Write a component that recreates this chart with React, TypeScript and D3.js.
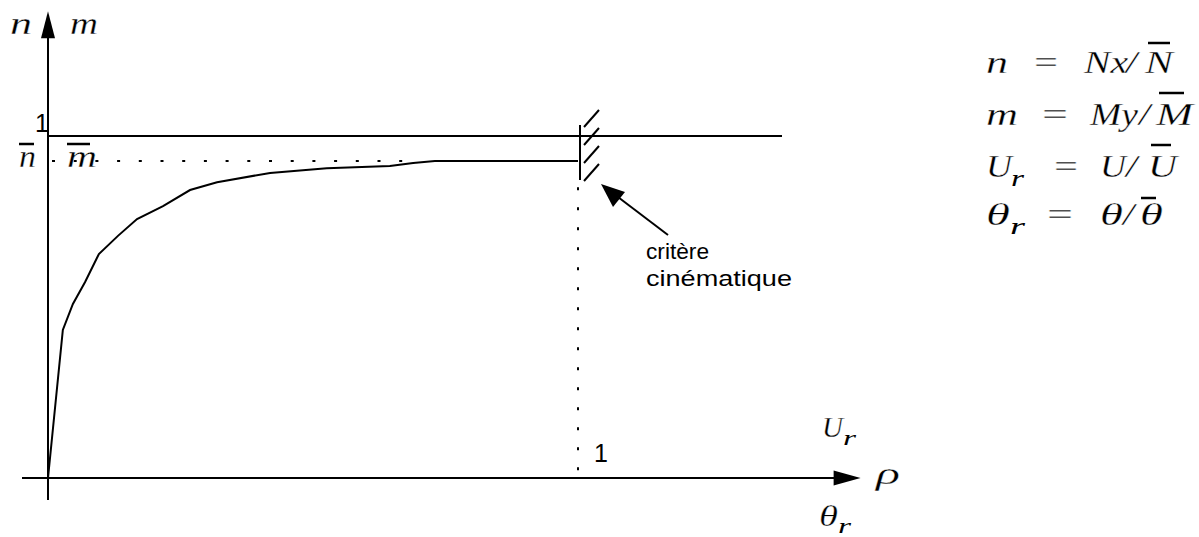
import React from "react";
import * as d3 from "d3";

// Curve data (normalized force vs. normalized displacement)
const curveX = [0, 0.028, 0.047, 0.07, 0.096, 0.132, 0.168, 0.217, 0.268, 0.319, 0.419, 0.526, 0.645, 0.689, 0.73, 1.0];
const curveY = [0, 0.433, 0.509, 0.573, 0.655, 0.708, 0.757, 0.795, 0.842, 0.865, 0.892, 0.906, 0.912, 0.921, 0.927, 0.927];
const limitLevel = 1; // "1" horizontal line
const barLevel = 0.927; // n̄ / m̄ dotted level
const xLimit = 1; // critère cinématique
const xMax = 1.52;
const yMax = 1.33;
const annotationLines = ["critère", "cinématique"];
const annotationWidths = [63, 146];

const serif = "'Liberation Serif', 'DejaVu Serif', serif";
const sans = "'Liberation Sans', Arial, sans-serif";

type TProps = { x: number; y: number; w?: number; size?: number; italic?: boolean; family?: string; thin?: number; children: string };
function T({ x, y, w, size = 31, italic = true, family = serif, thin = 0.3, children }: TProps) {
  return (
    <text
      x={x}
      y={y}
      fontFamily={family}
      fontStyle={italic ? "italic" : "normal"}
      fontSize={size}
      textLength={w}
      lengthAdjust={w ? "spacingAndGlyphs" : undefined}
      stroke={thin > 0 ? "#fff" : undefined}
      strokeWidth={thin > 0 ? thin : undefined}
    >
      {children}
    </text>
  );
}

export default function App() {
  const x = d3.scaleLinear().domain([0, 1]).range([48, 578]);
  const y = d3.scaleLinear().domain([0, 1]).range([478, 136]);
  const pts: [number, number][] = curveX.map((v, i) => [v, curveY[i]]);
  const line = d3.line<[number, number]>().x((d) => x(d[0])).y((d) => y(d[1]));

  const x0 = x(0);
  const y0 = y(0);
  const xEnd = x(xMax);
  const yTop = y(yMax);
  const xl = x(xLimit);
  const y1 = y(limitLevel);
  const yb = y(barLevel);

  const ov = (x1: number, x2: number, yy: number) => (
    <line x1={x1} x2={x2} y1={yy} y2={yy} stroke="#000" strokeWidth={2.5} />
  );

  const hatches = [0, 1, 2, 3];

  return (
    <svg width={1199} height={537} style={{ position: "absolute", left: 0, top: 0, background: "#fff" }}>
      {/* axes */}
      <line x1={x0} x2={x0} y1={yTop + 8} y2={500} stroke="#000" strokeWidth={2} />
      <path d={`M${x0},${yTop - 12} L${x0 - 7},${yTop + 15} L${x0 + 7},${yTop + 15} Z`} fill="#000" />
      <line x1={22} x2={xEnd - 10} y1={y0} y2={y0} stroke="#000" strokeWidth={2} />
      <path d={`M${xEnd + 7},${y0} L${xEnd - 20},${y0 - 7.5} L${xEnd - 20},${y0 + 7.5} Z`} fill="#000" />

      {/* level 1 */}
      <line x1={x0} x2={782} y1={y1} y2={y1} stroke="#000" strokeWidth={2} />
      {/* dotted n-bar level */}
      <line x1={x0 + 4} x2={x(0.7)} y1={yb} y2={yb} stroke="#000" strokeWidth={2} strokeDasharray="3 18.7" />
      {/* dotted vertical at x=1 */}
      <line x1={xl} x2={xl} y1={y(0.85)} y2={y0} stroke="#000" strokeWidth={2} strokeDasharray="3 17" />

      {/* curve */}
      <path d={line(pts) ?? ""} fill="none" stroke="#000" strokeWidth={2} />

      {/* kinematic criterion wall */}
      <line x1={xl + 2} x2={xl + 2} y1={y1 - 11} y2={y1 + 44} stroke="#000" strokeWidth={2} />
      {hatches.map((h) => (
        <line key={h} x1={xl + 6} x2={xl + 21} y1={y1 - 9 + h * 18} y2={y1 - 26 + h * 18} stroke="#000" strokeWidth={2} />
      ))}

      {/* annotation arrow */}
      <line x1={668} y1={235} x2={614} y2={194} stroke="#000" strokeWidth={2} />
      <path d="M601,184 L625,192 L613,207 Z" fill="#000" />
      {annotationLines.map((t, i) => (
        <T key={t} x={646} y={259 + i * 27} w={annotationWidths[i]} size={22} italic={false} family={sans} thin={0}>
          {t}
        </T>
      ))}

      {/* axis labels top-left */}
      <T x={10} y={34} w={22} size={32}>n</T>
      <T x={70} y={34} w={28} size={32}>m</T>
      <T x={35} y={132} size={25} italic={false} family={sans} thin={0}>1</T>
      <T x={19} y={167} w={17} size={32}>n</T>
      {ov(19, 34, 144)}
      <T x={67} y={167} w={30} size={32}>m</T>
      {ov(67, 90, 144)}

      {/* bottom labels */}
      <T x={594} y={462} size={25} italic={false} family={sans} thin={0}>1</T>
      <T x={822} y={437} w={21} size={30}>U</T>
      <T x={843} y={445} w={13} size={22} thin={0}>r</T>
      <T x={876} y={484} w={24} size={32}>ρ</T>
      <T x={819} y={526} w={19} size={30}>θ</T>
      <T x={838} y={533} w={13} size={22} thin={0}>r</T>

      {/* legend */}
      <T x={986} y={73} w={22}>n</T>
      <T x={1034} y={73} w={24} italic={false}>=</T>
      <T x={1084} y={73} w={44}>Nx</T>
      <T x={1126} y={73} w={11}>/</T>
      <T x={1145} y={73} w={28}>N</T>
      {ov(1148, 1170, 43)}

      <T x={986} y={125} w={32}>m</T>
      <T x={1042} y={125} w={26} italic={false}>=</T>
      <T x={1090} y={125} w={48}>My</T>
      <T x={1139} y={125} w={11}>/</T>
      <T x={1156} y={125} w={37}>M</T>
      {ov(1159, 1184, 93)}

      <T x={986} y={177} w={26}>U</T>
      <T x={1011} y={186} w={13} size={23} thin={0}>r</T>
      <T x={1054} y={177} w={24} italic={false}>=</T>
      <T x={1100} y={177} w={26}>U</T>
      <T x={1126} y={177} w={11}>/</T>
      <T x={1148} y={177} w={29}>U</T>
      {ov(1151, 1171, 145)}

      <T x={986} y={225} w={24}>θ</T>
      <T x={1010} y={234} w={15} size={23} thin={0}>r</T>
      <T x={1047} y={225} w={26} italic={false}>=</T>
      <T x={1100} y={225} w={23}>θ</T>
      <T x={1123} y={225} w={11}>/</T>
      <T x={1140} y={225} w={23}>θ</T>
      {ov(1141, 1156, 198)}
    </svg>
  );
}
